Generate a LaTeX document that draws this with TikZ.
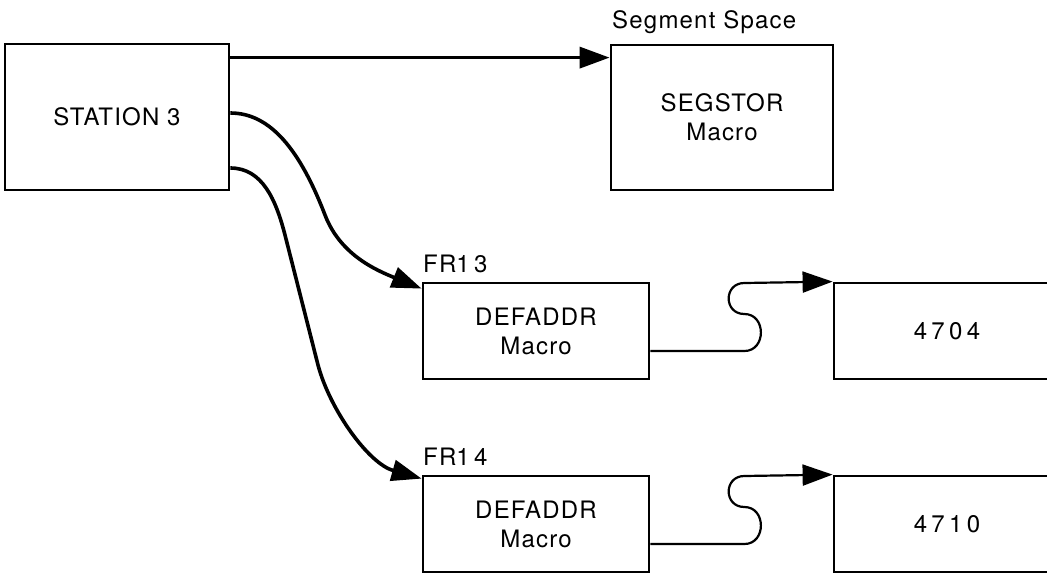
\documentclass[tikz,border=0pt]{standalone}
\usepackage{fontspec}
\setmainfont{TeX Gyre Heros}[LetterSpace=5]
\newfontfamily\wide{TeX Gyre Heros}[LetterSpace=18]
\usetikzlibrary{arrows.meta}
\begin{document}
\begin{tikzpicture}[x=1pt, y=-1pt,
  box/.style={draw, line width=2.8pt, inner sep=0pt, minimum width=226pt, minimum height=96pt,
    align=center, font=\fontsize{24}{29}\selectfont},
  tag/.style={inner sep=0pt, anchor=base west, font=\fontsize{24}{29}\selectfont},
  flow/.style={line width=3.6pt, -{Triangle[length=30pt,width=21pt]}},
  link/.style={line width=2.2pt, -{Triangle[length=30pt,width=21pt]}}]
  \useasboundingbox (0,0) rectangle (1047,574);
  \clip (0,0) rectangle (1047,574);
  \node[box, minimum width=224pt, minimum height=146pt] (station) at (117,117) {STATION 3};
  \node[box, minimum width=222pt, minimum height=145pt] (segstor) at (722,117.5) {SEGSTOR\\Macro};
  \node[tag] (segtag) at (612,28) {Segment Space};
  \coordinate (out) at ([yshift=-15pt]station.north east);
  \draw[flow] (out) -- (out -| segstor.west);
  \foreach \n/\y/\addr in {13/331/4704, 14/524/4710} {
    \node[box] (def\n) at (536,\y) {DEFADDR\\Macro};
    \node[tag] (fr\n) at (423,{\y-59}) {FR{\wide\n}};
    \node[box] (ref\n) at (947,\y) {\wide\addr};
    \draw[link] ([yshift=-20pt]def\n.east) -- ++(94,0)
      .. controls +(22,0) and +(22,0) .. ++(0,-37)
      .. controls +(-21,0) and +(-21,0) .. ++(0,-31) -- (ref\n.north west);
  }
  \draw[flow] ([yshift=4pt]station.east) .. controls +(40,0) and +(-25,-65) .. (325,215)
    .. controls +(15,39) and +(-47,-19) .. ([yshift=-7pt]def13.north west);
  \draw[flow] ([yshift=-51pt]station.east) .. controls +(32,0) and +(-9,-35) .. (285,235) -- (318,365)
    .. controls +(12,45) and +(-53,-15) .. ([yshift=-4pt]def14.north west);
\end{tikzpicture}
\end{document}
